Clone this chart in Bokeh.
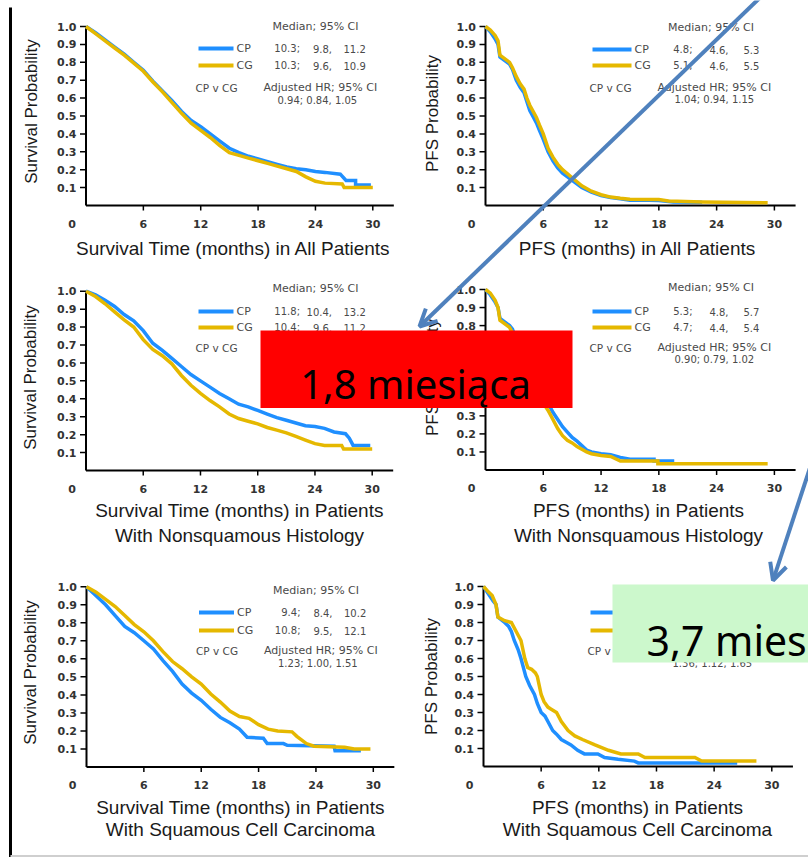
import numpy as np
from bokeh.plotting import figure
from bokeh.models import Range1d, Arrow, OpenHead
from bokeh.core.properties import value
from bokeh.embed import file_html
from bokeh.resources import INLINE

W, H = 808, 857
BLUE = "#1F8FFF"
GOLD = "#E5B800"
ARROW_C = "#4F81BD"

# ---------------- data ----------------
X_TICKS = [6, 12, 18, 24, 30]
X_TICK_LABELS = ["6", "12", "18", "24", "30"]
Y_TICKS = [0.1, 0.2, 0.3, 0.4, 0.5, 0.6, 0.7, 0.8, 0.9, 1.0]
Y_TICK_LABELS = ["0.1", "0.2", "0.3", "0.4", "0.5", "0.6", "0.7", "0.8", "0.9", "1.0"]
ARMS = ["CP", "CG"]

# Panel A: survival, all patients
os_all_cp_t = [0, 1, 2, 3, 4, 5, 6, 7, 8, 9, 10, 11, 12, 13, 14, 15, 16, 17, 18, 19, 20, 21, 22, 23, 24, 25, 26.6, 27.2, 28.2, 28.2, 29.8]
os_all_cp_s = [1.0, 0.965, 0.925, 0.885, 0.845, 0.80, 0.755, 0.695, 0.64, 0.585, 0.525, 0.475, 0.44, 0.40, 0.36, 0.32, 0.295, 0.275, 0.26, 0.245, 0.23, 0.215, 0.205, 0.20, 0.19, 0.185, 0.175, 0.14, 0.14, 0.115, 0.115]
os_all_cg_t = [0, 1, 2, 3, 4, 5, 6, 7, 8, 9, 10, 11, 12, 13, 14, 15, 16, 17, 18, 19, 20, 21, 22, 23, 24, 25, 26.8, 27.0, 30.0]
os_all_cg_s = [1.0, 0.96, 0.92, 0.88, 0.84, 0.795, 0.75, 0.69, 0.635, 0.575, 0.515, 0.46, 0.42, 0.38, 0.335, 0.295, 0.28, 0.265, 0.25, 0.235, 0.22, 0.205, 0.19, 0.16, 0.135, 0.125, 0.12, 0.10, 0.10]
os_all_med = [["10.3;", "9.8,", "11.2"], ["10.3;", "9.6,", "10.9"]]
os_all_hr = "0.94; 0.84, 1.05"

# Panel B: PFS, all patients
pfs_all_cp_t = [0, 0.5, 1.0, 1.3, 1.5, 2.5, 2.8, 3.2, 3.6, 4.0, 4.3, 4.6, 5.0, 5.3, 5.6, 6.0, 6.5, 7.0, 7.5, 8.0, 9.0, 10.0, 11.0, 12.0, 13.0, 14.0, 15.0, 17.0, 18.0, 19.5, 22.5]
pfs_all_cp_s = [1.0, 0.97, 0.93, 0.90, 0.83, 0.79, 0.76, 0.70, 0.66, 0.63, 0.58, 0.53, 0.49, 0.46, 0.42, 0.37, 0.30, 0.25, 0.21, 0.18, 0.14, 0.10, 0.075, 0.055, 0.045, 0.038, 0.03, 0.03, 0.028, 0.02, 0.018]
pfs_all_cg_t = [0, 0.5, 1.0, 1.3, 1.5, 2.5, 2.8, 3.2, 3.6, 4.0, 4.3, 4.6, 5.0, 5.3, 5.6, 6.0, 6.5, 7.0, 7.5, 8.0, 9.0, 10.0, 11.0, 12.0, 13.0, 14.0, 15.0, 18.0, 19.0, 22.5, 29.3]
pfs_all_cg_s = [1.0, 0.98, 0.95, 0.92, 0.84, 0.80, 0.77, 0.72, 0.68, 0.65, 0.60, 0.56, 0.52, 0.49, 0.45, 0.40, 0.32, 0.27, 0.23, 0.20, 0.155, 0.11, 0.08, 0.06, 0.047, 0.04, 0.035, 0.033, 0.025, 0.02, 0.015]
pfs_all_med = [["4.8;", "4.6,", "5.3"], ["5.1;", "4.6,", "5.5"]]
pfs_all_hr = "1.04; 0.94, 1.15"

# Panel C: survival, nonsquamous
os_nsq_cp_t = [0, 1, 2, 3, 4, 5, 6, 7, 8, 9, 10, 11, 12, 13, 14, 15, 16, 17, 18, 19, 20, 21, 22, 23, 24, 25, 26, 27.2, 27.6, 28.0, 29.8]
os_nsq_cp_s = [1.0, 0.98, 0.95, 0.915, 0.87, 0.835, 0.78, 0.71, 0.67, 0.625, 0.58, 0.535, 0.50, 0.465, 0.43, 0.40, 0.37, 0.355, 0.335, 0.315, 0.295, 0.28, 0.265, 0.25, 0.245, 0.235, 0.215, 0.205, 0.18, 0.14, 0.14]
os_nsq_cg_t = [0, 1, 2, 3, 4, 5, 6, 7, 8, 9, 10, 11, 12, 13, 14, 15, 16, 17, 18, 19, 20, 21, 22, 23, 24, 25, 26.8, 27.0, 30.0]
os_nsq_cg_s = [1.0, 0.97, 0.93, 0.885, 0.84, 0.80, 0.73, 0.675, 0.64, 0.595, 0.53, 0.475, 0.43, 0.39, 0.355, 0.315, 0.29, 0.275, 0.26, 0.24, 0.225, 0.21, 0.19, 0.17, 0.15, 0.14, 0.14, 0.12, 0.12]
os_nsq_med = [["11.8;", "10.4,", "13.2"], ["10.4;", "9.6,", "11.2"]]
os_nsq_hr = None

# Panel D: PFS, nonsquamous
pfs_nsq_cp_t = [0, 0.5, 1.0, 1.3, 1.5, 2.5, 2.8, 3.2, 3.6, 4.0, 4.5, 5.0, 5.5, 6.0, 6.5, 7.0, 7.5, 8.0, 8.5, 9.0, 9.5, 10.0, 10.5, 11.0, 12.0, 13.0, 14.0, 15.0, 17.5, 17.5, 19.6]
pfs_nsq_cp_s = [1.0, 0.97, 0.93, 0.90, 0.84, 0.80, 0.78, 0.72, 0.67, 0.63, 0.57, 0.52, 0.47, 0.42, 0.37, 0.32, 0.28, 0.24, 0.21, 0.18, 0.16, 0.135, 0.11, 0.10, 0.09, 0.085, 0.07, 0.06, 0.06, 0.05, 0.05]
pfs_nsq_cg_t = [0, 0.5, 1.0, 1.3, 1.5, 2.5, 2.8, 3.2, 3.6, 4.0, 4.5, 5.0, 5.5, 6.0, 6.5, 7.0, 7.5, 8.0, 8.5, 9.0, 9.5, 10.0, 10.5, 11.0, 12.0, 13.0, 14.0, 17.9, 17.9, 29.3]
pfs_nsq_cg_s = [1.0, 0.98, 0.94, 0.90, 0.83, 0.79, 0.76, 0.70, 0.64, 0.60, 0.53, 0.47, 0.42, 0.37, 0.33, 0.28, 0.23, 0.19, 0.165, 0.15, 0.13, 0.115, 0.10, 0.09, 0.08, 0.075, 0.05, 0.05, 0.035, 0.035]
pfs_nsq_med = [["5.3;", "4.8,", "5.7"], ["4.7;", "4.4,", "5.4"]]
pfs_nsq_hr = "0.90; 0.79, 1.02"

# Panel E: survival, squamous
os_sq_cp_t = [0, 1, 2, 3, 4, 5, 6, 7, 8, 9, 10, 11, 12, 13, 14, 15, 16, 16.8, 18.5, 18.9, 20.6, 21.0, 25.9, 26.0, 28.7]
os_sq_cp_s = [1.0, 0.95, 0.90, 0.84, 0.78, 0.745, 0.70, 0.655, 0.59, 0.53, 0.46, 0.41, 0.37, 0.32, 0.275, 0.245, 0.21, 0.165, 0.16, 0.13, 0.13, 0.12, 0.115, 0.09, 0.09]
os_sq_cg_t = [0, 1, 2, 3, 4, 5, 6, 7, 8, 9, 10, 11, 12, 13, 14, 15, 16, 17, 18, 19, 20, 21.5, 22, 23, 23.8, 27, 28, 29.7]
os_sq_cg_s = [1.0, 0.97, 0.93, 0.89, 0.84, 0.79, 0.75, 0.70, 0.64, 0.585, 0.545, 0.50, 0.46, 0.405, 0.36, 0.31, 0.28, 0.27, 0.235, 0.21, 0.20, 0.195, 0.17, 0.13, 0.115, 0.11, 0.10, 0.10]
os_sq_med = [["9.4;", "8.4,", "10.2"], ["10.8;", "9.5,", "12.1"]]
os_sq_hr = "1.23; 1.00, 1.51"

# Panel F: PFS, squamous
pfs_sq_cp_t = [0, 0.5, 1.0, 1.3, 1.5, 2.2, 2.6, 2.9, 3.2, 3.6, 3.9, 4.4, 4.8, 5.3, 5.6, 6.0, 6.4, 6.7, 7.2, 7.6, 8.1, 8.6, 9.1, 9.8, 10.5, 11.9, 12.6, 14.0, 15.7, 16.1, 26.4]
pfs_sq_cp_s = [1.0, 0.96, 0.92, 0.90, 0.83, 0.80, 0.78, 0.75, 0.70, 0.65, 0.60, 0.50, 0.45, 0.40, 0.35, 0.30, 0.28, 0.25, 0.20, 0.18, 0.15, 0.135, 0.12, 0.09, 0.07, 0.07, 0.05, 0.04, 0.03, 0.02, 0.02]
pfs_sq_cg_t = [0, 0.5, 0.9, 1.3, 1.5, 2.2, 2.9, 3.4, 3.9, 4.3, 4.6, 5.0, 5.4, 5.6, 6.0, 6.3, 6.7, 7.0, 7.6, 8.1, 8.8, 9.5, 10.3, 11.6, 13.0, 14.3, 16.1, 16.8, 22.0, 22.7, 28.4]
pfs_sq_cg_s = [1.0, 0.97, 0.95, 0.90, 0.83, 0.81, 0.80, 0.75, 0.70, 0.60, 0.55, 0.54, 0.52, 0.50, 0.40, 0.36, 0.33, 0.32, 0.30, 0.25, 0.20, 0.17, 0.15, 0.12, 0.09, 0.07, 0.07, 0.05, 0.05, 0.03, 0.03]
pfs_sq_med = None
pfs_sq_hr = "1.36; 1.12, 1.65"

RED_NOTE = "1,8 miesiąca"
GREEN_NOTE = "3,7 mies"

# ---------------- layout (pixel geometry) ----------------
PANELS = [
    dict(ox=85.5, oy=205.0, kx=9.56, ky=179.0, side="L", leg_top=26, rows=[0, 22, 39, 61, 74],
         ytitle="Survival Probability", yt=(31, 111), xt_x=233, xt_y=[248],
         xtitle=["Survival Time (months) in All Patients"],
         curves=[(os_all_cp_t, os_all_cp_s), (os_all_cg_t, os_all_cg_s)], med=os_all_med, hr=os_all_hr),
    dict(ox=485.0, oy=205.0, kx=9.63, ky=179.0, side="R", leg_top=27, rows=[0, 22, 38, 60, 72],
         ytitle="PFS Probability", yt=(432, 113), xt_x=637, xt_y=[248],
         xtitle=["PFS (months) in All Patients"],
         curves=[(pfs_all_cp_t, pfs_all_cp_s), (pfs_all_cg_t, pfs_all_cg_s)], med=pfs_all_med, hr=pfs_all_hr),
    dict(ox=85.5, oy=470.0, kx=9.54, ky=179.3, side="L", leg_top=288, rows=[0, 23, 39, 59, 72],
         ytitle="Survival Probability", yt=(30, 377), xt_x=239, xt_y=[510, 535],
         xtitle=["Survival Time (months) in Patients", "With Nonsquamous Histology"],
         curves=[(os_nsq_cp_t, os_nsq_cp_s), (os_nsq_cg_t, os_nsq_cg_s)], med=os_nsq_med, hr=os_nsq_hr),
    dict(ox=485.0, oy=469.5, kx=9.63, ky=180.5, side="R", leg_top=287, rows=[0, 24, 40, 60, 72],
         ytitle="PFS Probability", yt=(432, 377), xt_x=638, xt_y=[510, 535],
         xtitle=["PFS (months) in Patients", "With Nonsquamous Histology"],
         curves=[(pfs_nsq_cp_t, pfs_nsq_cp_s), (pfs_nsq_cg_t, pfs_nsq_cg_s)], med=pfs_nsq_med, hr=pfs_nsq_hr),
    dict(ox=86.0, oy=766.5, kx=9.56, ky=180.3, side="L", leg_top=590, rows=[0, 22, 40, 60, 73],
         ytitle="Survival Probability", yt=(30, 672), xt_x=240, xt_y=[807, 829],
         xtitle=["Survival Time (months) in Patients", "With Squamous Cell Carcinoma"],
         curves=[(os_sq_cp_t, os_sq_cp_s), (os_sq_cg_t, os_sq_cg_s)], med=os_sq_med, hr=os_sq_hr),
    dict(ox=483.0, oy=766.0, kx=9.61, ky=180.0, side="R", leg_top=590, rows=[0, 22, 40, 60, 73],
         ytitle="PFS Probability", yt=(431, 676), xt_x=637, xt_y=[807, 829],
         xtitle=["PFS (months) in Patients", "With Squamous Cell Carcinoma"],
         curves=[(pfs_sq_cp_t, pfs_sq_cp_s), (pfs_sq_cg_t, pfs_sq_cg_s)], med=pfs_sq_med, hr=pfs_sq_hr),
]

# legend column offsets relative to the panel origin x
COLS = {
    "L": dict(med=229.5, l0=112.5, l1=147.5, lab=150.5, c1=214.0, c2=246.0, c3=257.5, cpv=109.5, adj=177.5, hr=191.5),
    "R": dict(med=225.5, l0=107.0, l1=146.0, lab=149.0, c1=207.0, c2=243.0, c3=258.0, cpv=104.0, adj=172.0, hr=189.0),
}

TITLE_FONT = value("Liberation Sans")
TICK_FONT = value("DejaVu Sans")
LEG_FONT = value("DejaVu Sans")
NOTE_FONT = value("Noto Sans")
LEG_C = "#4a4a4a"

p = figure(width=W, height=H, x_range=Range1d(0, W), y_range=Range1d(H, 0),
           toolbar_location=None, output_backend="svg", min_border=0,
           x_axis_location=None, y_axis_location=None, outline_line_color=None,
           background_fill_color="white", border_fill_color="white")
p.xgrid.visible = False
p.ygrid.visible = False

xr, yr = {}, {}
for i, pn in enumerate(PANELS):
    xr[f"x{i}"] = Range1d((0 - pn["ox"]) / pn["kx"], (W - pn["ox"]) / pn["kx"])
    yr[f"y{i}"] = Range1d((pn["oy"] - H) / pn["ky"], pn["oy"] / pn["ky"])
p.extra_x_ranges = xr
p.extra_y_ranges = yr

# slide border lines
p.segment(x0=[10], y0=[7], x1=[10], y1=[H], line_color="black", line_width=3)
p.segment(x0=[10], y0=[855.5], x1=[W], y1=[855.5], line_color="#cfcfcf", line_width=2)

for i, pn in enumerate(PANELS):
    rx, ry = f"x{i}", f"y{i}"
    kx, ky, ox, oy = pn["kx"], pn["ky"], pn["ox"], pn["oy"]
    kw = dict(x_range_name=rx, y_range_name=ry)
    # axes
    p.segment(x0=[0, 0], y0=[0, 0], x1=[32.2, 0], y1=[0, 1.0], line_color="black", line_width=2, **kw)
    p.segment(x0=X_TICKS, y0=[0] * len(X_TICKS), x1=X_TICKS, y1=[-5 / ky] * len(X_TICKS),
              line_color="black", line_width=1.5, **kw)
    p.segment(x0=[-6 / kx] * len(Y_TICKS), y0=Y_TICKS, x1=[0] * len(Y_TICKS), y1=Y_TICKS,
              line_color="black", line_width=1.5, **kw)
    p.text(x=X_TICKS + [-14 / kx], y=[-18 / ky] * (len(X_TICKS) + 1), text=X_TICK_LABELS + ["0"],
           text_font=TICK_FONT, text_font_size="11px", text_font_style="bold", text_color="#333333",
           text_align="center", text_baseline="middle", **kw)
    p.text(x=[-9.5 / kx] * len(Y_TICKS), y=Y_TICKS, text=Y_TICK_LABELS,
           text_font=TICK_FONT, text_font_size="11px", text_font_style="bold", text_color="#333333",
           text_align="right", text_baseline="middle", **kw)
    # axis titles
    p.text(x=[(pn["yt"][0] - ox) / kx], y=[(oy - pn["yt"][1]) / ky], text=[pn["ytitle"]], angle=np.pi / 2,
           text_font=TITLE_FONT, text_font_size="17px", text_color="#1a1a1a",
           text_align="center", text_baseline="middle", **kw)
    p.text(x=[pn["xt_x"]] * len(pn["xtitle"]), y=pn["xt_y"], text=pn["xtitle"],
           text_font=TITLE_FONT, text_font_size="19px", text_color="#1a1a1a",
           text_align="center", text_baseline="middle")
    # curves
    for (t, s), col in zip(pn["curves"], [BLUE, GOLD]):
        p.line(t, s, line_color=col, line_width=3.5, line_join="miter", **kw)
    # legend block
    c = COLS[pn["side"]]
    top = pn["leg_top"]
    rows = [top + r for r in pn["rows"]]
    p.text(x=[ox + c["med"]], y=[rows[0]], text=["Median; 95% CI"], text_font=LEG_FONT,
           text_font_size="11px", text_color=LEG_C, text_align="center", text_baseline="middle")
    p.segment(x0=[ox + c["l0"]], y0=[rows[1]], x1=[ox + c["l1"]], y1=[rows[1]], line_color=BLUE, line_width=4)
    p.segment(x0=[ox + c["l0"]], y0=[rows[2]], x1=[ox + c["l1"]], y1=[rows[2]], line_color=GOLD, line_width=4)
    p.text(x=[ox + c["lab"]] * 2, y=[rows[1], rows[2]], text=ARMS, text_font=LEG_FONT,
           text_font_size="11px", text_color=LEG_C, text_align="left", text_baseline="middle")
    if pn["med"] is not None:
        for k, (ca, align) in enumerate([("c1", "right"), ("c2", "right"), ("c3", "left")]):
            p.text(x=[ox + c[ca]] * 2, y=[rows[1], rows[2]], text=[pn["med"][0][k], pn["med"][1][k]],
                   text_font=LEG_FONT, text_font_size="10px", text_color=LEG_C,
                   text_align=align, text_baseline="middle")
    p.text(x=[ox + c["cpv"]], y=[rows[3]], text=["CP v CG"], text_font=LEG_FONT,
           text_font_size="10.5px", text_color=LEG_C, text_align="left", text_baseline="middle")
    if pn["hr"] is not None:
        p.text(x=[ox + c["adj"]], y=[rows[3]], text=["Adjusted HR; 95% CI"],
               text_font=LEG_FONT, text_font_size="11px", text_color=LEG_C,
               text_align="left", text_baseline="middle")
        p.text(x=[ox + c["hr"]], y=[rows[4]], text=[pn["hr"]],
               text_font=LEG_FONT, text_font_size="10px", text_color=LEG_C,
               text_align="left", text_baseline="middle")

# ---------------- overlays ----------------
p.quad(left=[260], right=[572], top=[330], bottom=[407.5], fill_color="#FF0000", line_color=None)
p.text(x=[415], y=[383], text=[RED_NOTE], text_font=NOTE_FONT, text_font_size="40px",
       text_color="black", text_align="center", text_baseline="alphabetic")
p.quad(left=[612], right=[W + 5], top=[584], bottom=[662], fill_color="#CCF8CC", line_color=None)
p.text(x=[646], y=[639], text=[GREEN_NOTE], text_font=NOTE_FONT, text_font_size="41px",
       text_color="black", text_align="left", text_baseline="alphabetic")

p.add_layout(Arrow(end=OpenHead(size=17, line_color=ARROW_C, line_width=4),
                   x_start=769, y_start=-12, x_end=419, y_end=326,
                   line_color=ARROW_C, line_width=4))
p.add_layout(Arrow(end=OpenHead(size=17, line_color=ARROW_C, line_width=4),
                   x_start=825, y_start=420, x_end=772.5, y_end=580,
                   line_color=ARROW_C, line_width=4))

open("out.html", "w").write(file_html(p, INLINE))
